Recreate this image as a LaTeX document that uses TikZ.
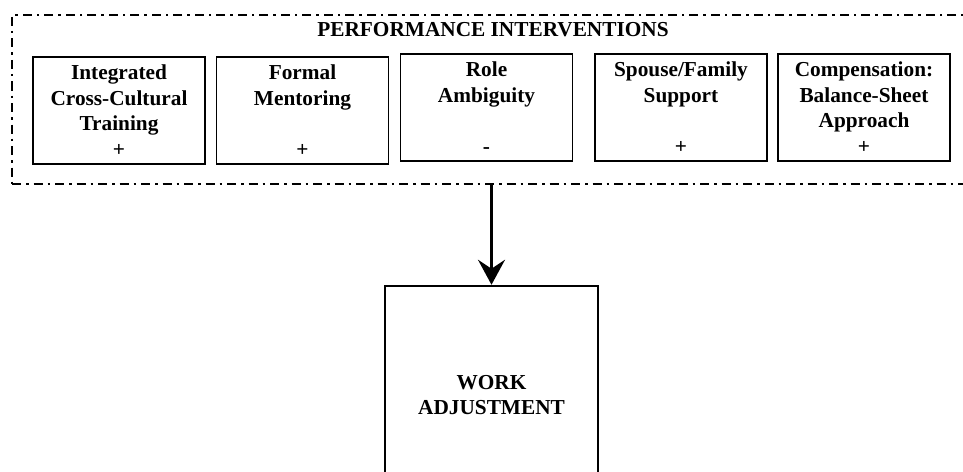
\documentclass[tikz,border=0pt]{standalone}
\usepackage{fontspec}
\setmainfont{Liberation Serif}
\usepackage{tikz}
\usetikzlibrary{arrows.meta}

\begin{document}
\begin{tikzpicture}[x=1pt, y=-1pt, font=\fontsize{21.3}{25.5}\selectfont\bfseries,
      factor/.style={draw, line width=1.2pt, minimum width=172pt, minimum height=107pt,
        inner sep=0pt, align=center},
      group/.style={draw, line width=2pt, dash pattern=on 9pt off 5pt on 2.5pt off 5pt,
        minimum width=968pt, minimum height=169pt, inner sep=0pt},
      outcome/.style={draw, line width=2.5pt, minimum width=213pt, minimum height=218pt,
        align=center}]
    \useasboundingbox (0,0) rectangle (963,471);
    \clip (0,0) rectangle (963,471);
    \node (interventions) [group] at (496,99.5) {};
    \node (title) at (493,30) {PERFORMANCE INTERVENTIONS};
    \node (training) [factor] at (119,110.5) {Integrated\\Cross-Cultural\\Training\\+};
    \node (mentoring) [factor] at (302.5,110.5) {Formal\\Mentoring\\[25.5pt]+};
    \node (ambiguity) [factor] at (486.5,107.5) {Role\\Ambiguity\\[25.5pt]-};
    \node (family) [factor] at (681,107.5) {Spouse/Family\\Support\\[25.5pt]+};
    \node (compensation) [factor] at (864,107.5) {Compensation:\\Balance-Sheet\\Approach\\+};
    \node (work) [outcome] at (491.5,395) {WORK\\ADJUSTMENT};
    \draw[line width=3pt, -{Stealth[length=25pt, width=27pt, inset=9pt]}]
      (work.north |- interventions.south) -- (work.north);
  \end{tikzpicture}
\end{document}
